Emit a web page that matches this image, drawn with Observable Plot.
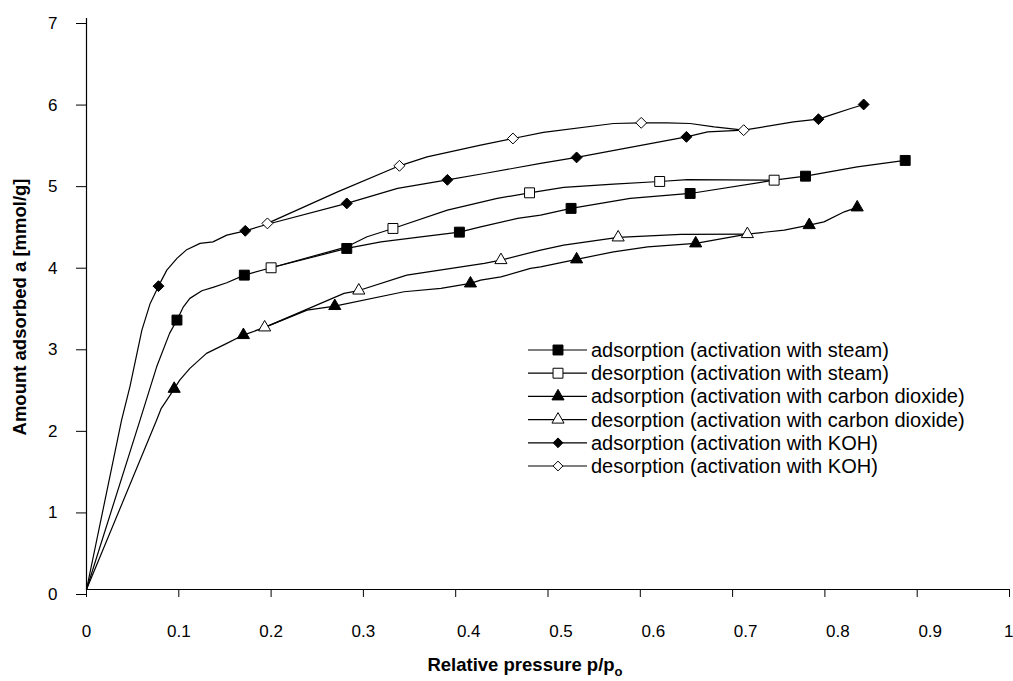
<!DOCTYPE html>
<html><head><meta charset="utf-8">
<script src="https://cdn.jsdelivr.net/npm/d3@7"></script>
<script src="https://cdn.jsdelivr.net/npm/@observablehq/plot@0.6"></script>
<style>
body{margin:0;background:#fff;}
#wrap{position:relative;width:1013px;height:681px;overflow:hidden;}
#legend{position:absolute;left:0;top:0;}
</style>
</head><body><div id="wrap"></div><script>
// ---- data (x = relative pressure p/p0, y = amount adsorbed, mmol/g) ----
const seriesNames = [
  "adsorption (activation with steam)",
  "desorption (activation with steam)",
  "adsorption (activation with carbon dioxide)",
  "desorption (activation with carbon dioxide)",
  "adsorption (activation with KOH)",
  "desorption (activation with KOH)"
];
const seriesSymbols = ["square", "square", "triangle", "triangle", "diamond2", "diamond2"];
const seriesFilled = [true, false, true, false, true, false];

const steamAdsLine = [[0,0],[0.058,2.077],[0.076,2.730],[0.090,3.140],[0.098,3.303],[0.105,3.466],[0.112,3.569],[0.125,3.662],[0.137,3.703],[0.152,3.760],[0.171,3.854],[0.200,3.944],[0.282,4.181],[0.319,4.262],[0.358,4.316],[0.404,4.381],[0.427,4.446],[0.467,4.549],[0.492,4.589],[0.525,4.672],[0.589,4.794],[0.654,4.855],[0.745,5.018],[0.779,5.067],[0.835,5.181],[0.887,5.260]];
const steamAdsMarks = [[0.098,3.303],[0.171,3.854],[0.282,4.181],[0.404,4.381],[0.525,4.672],[0.654,4.855],[0.779,5.067],[0.887,5.260]];

const steamDesLine = [[0.200,3.944],[0.282,4.201],[0.304,4.324],[0.332,4.426],[0.391,4.651],[0.445,4.794],[0.480,4.863],[0.517,4.929],[0.571,4.969],[0.621,5.002],[0.651,5.025],[0.745,5.018]];
const steamDesMarks = [[0.200,3.944],[0.332,4.426],[0.480,4.863],[0.621,5.002],[0.745,5.018]];

const co2AdsLine = [[0,0],[0.076,2.077],[0.081,2.221],[0.087,2.322],[0.095,2.460],[0.101,2.567],[0.112,2.711],[0.130,2.895],[0.152,3.017],[0.170,3.119],[0.193,3.213],[0.239,3.425],[0.269,3.475],[0.344,3.650],[0.384,3.691],[0.416,3.752],[0.427,3.793],[0.449,3.833],[0.481,3.936],[0.492,3.956],[0.531,4.047],[0.571,4.140],[0.608,4.201],[0.660,4.243],[0.716,4.357],[0.756,4.406],[0.783,4.467],[0.799,4.507],[0.821,4.630],[0.835,4.684]];
const co2AdsMarks = [[0.095,2.460],[0.170,3.119],[0.269,3.475],[0.416,3.752],[0.531,4.047],[0.660,4.243],[0.783,4.467],[0.835,4.684]];

const co2DesLine = [[0.193,3.213],[0.279,3.630],[0.295,3.665],[0.347,3.854],[0.431,3.998],[0.449,4.038],[0.492,4.161],[0.517,4.222],[0.576,4.316],[0.644,4.353],[0.716,4.357]];
const co2DesMarks = [[0.193,3.213],[0.295,3.665],[0.449,4.038],[0.576,4.316],[0.716,4.357]];

const kohAdsLine = [[0,0],[0.038,2.077],[0.047,2.485],[0.060,3.180],[0.069,3.507],[0.078,3.719],[0.087,3.915],[0.098,4.059],[0.108,4.161],[0.123,4.243],[0.137,4.262],[0.152,4.344],[0.172,4.397],[0.196,4.478],[0.282,4.733],[0.337,4.917],[0.391,5.022],[0.431,5.100],[0.492,5.223],[0.531,5.297],[0.650,5.549],[0.673,5.610],[0.712,5.631],[0.766,5.733],[0.793,5.766],[0.806,5.815],[0.828,5.897],[0.842,5.946]];
const kohAdsMarks = [[0.078,3.719],[0.172,4.397],[0.282,4.733],[0.391,5.022],[0.531,5.297],[0.650,5.549],[0.793,5.766],[0.842,5.946]];

const kohDesLine = [[0.196,4.488],[0.272,4.875],[0.339,5.194],[0.369,5.304],[0.427,5.447],[0.462,5.529],[0.495,5.603],[0.571,5.713],[0.601,5.721],[0.629,5.721],[0.654,5.713],[0.680,5.672],[0.712,5.631]];
const kohDesMarks = [[0.196,4.488],[0.339,5.194],[0.462,5.529],[0.601,5.721],[0.712,5.631]];

const xTicks = [0, 0.1, 0.2, 0.3, 0.4, 0.5, 0.6, 0.7, 0.8, 0.9, 1];
const yTicks = [0, 1, 2, 3, 4, 5, 6, 7];
const xTitle = "Relative pressure p/p";
const xTitleSub = "o";
const yTitle = "Amount adsorbed a [mmol/g]";

// ---- build tables ----
const seriesLines = [steamAdsLine, steamDesLine, co2AdsLine, co2DesLine, kohAdsLine, kohDesLine];
const seriesMarks = [steamAdsMarks, steamDesMarks, co2AdsMarks, co2DesMarks, kohAdsMarks, kohDesMarks];
const symbolR = {square: 5.6, triangle: 4.5, diamond2: 4.9};

const lineRows = seriesLines.flatMap((arr, i) => arr.map(([x, y]) => ({series: i, x, y})));
const fmt = d => String(+d.toFixed(1));
const font = "'Liberation Sans', Arial, Helvetica, sans-serif";

const marks = [
  Plot.ruleX([0], {stroke: "black", strokeWidth: 1.2}),
  Plot.ruleY([0], {stroke: "black", strokeWidth: 1.2}),
  Plot.axisY(yTicks, {tickSize: 10, tickPadding: 19, dy: 5, tickFormat: d => String(d), label: null, fontSize: 17, stroke: "black"}),
  Plot.axisX(xTicks, {tickSize: 8, tickFormat: () => "", label: null, stroke: "black"}),
  Plot.axisX(xTicks.slice(0, 4), {tickSize: 0, tickPadding: 35, tickFormat: fmt, label: null, fontSize: 17}),
  Plot.axisX(xTicks.slice(4, 10), {tickSize: 0, tickPadding: 35, dx: 13, tickFormat: fmt, label: null, fontSize: 17}),
  Plot.axisX(xTicks.slice(10), {tickSize: 0, tickPadding: 35, dx: 4, textAnchor: "end", tickFormat: fmt, label: null, fontSize: 17}),
  Plot.line(lineRows, {x: "x", y: "y", z: "series", stroke: "black", strokeWidth: 1.2, curve: "linear"})
];
seriesMarks.forEach((arr, i) => {
  const sym = seriesSymbols[i];
  marks.push(Plot.dot(arr, {
    x: d => d[0], y: d => d[1], symbol: sym, r: symbolR[sym],
    fill: seriesFilled[i] ? "black" : "white", stroke: "black", strokeWidth: 1
  }));
});

const chart = Plot.plot({
  width: 1013, height: 681,
  marginLeft: 86, marginRight: 4, marginTop: 18, marginBottom: 92,
  x: {domain: [0, 1]},
  y: {domain: [0, 7]},
  style: {fontFamily: font, fontSize: "17px", color: "black", background: "white", overflow: "visible"},
  marks
});
document.getElementById("wrap").appendChild(chart);

// axis titles
const svg = d3.select(chart.tagName.toLowerCase() === "svg" ? chart : chart.querySelector("svg"));
svg.append("text")
  .attr("transform", "translate(26,307) rotate(-90)")
  .attr("text-anchor", "middle")
  .style("font", `bold 18.5px ${font}`)
  .attr("fill", "black")
  .text(yTitle);
const xt = svg.append("text")
  .attr("x", 525).attr("y", 671)
  .attr("text-anchor", "middle")
  .style("font", `bold 18.5px ${font}`)
  .attr("fill", "black");
xt.append("tspan").text(xTitle);
xt.append("tspan").attr("dy", 5).style("font-size", "13px").text(xTitleSub);

// legend
const leg = d3.select("#wrap").append("svg").attr("id", "legend")
  .attr("width", 1013).attr("height", 681);
const symMap = {square: d3.symbolSquare, triangle: d3.symbolTriangle, diamond2: d3.symbolDiamond2};
seriesNames.forEach((name, i) => {
  const y = 350 + i * 23.2;
  const g = leg.append("g");
  g.append("line").attr("x1", 528).attr("x2", 587).attr("y1", y).attr("y2", y)
    .attr("stroke", "black").attr("stroke-width", 1.2);
  const sym = seriesSymbols[i];
  const r = symbolR[sym] * (sym === "diamond2" ? 0.9 : 1);
  g.append("path").attr("transform", `translate(558,${y})`)
    .attr("d", d3.symbol(symMap[sym], Math.PI * r * r)())
    .attr("fill", seriesFilled[i] ? "black" : "white").attr("stroke", "black").attr("stroke-width", 1);
  g.append("text").attr("x", 591).attr("y", y).attr("dy", "0.35em")
    .style("font", `20px ${font}`).attr("fill", "black").text(name);
});
</script></body></html>
